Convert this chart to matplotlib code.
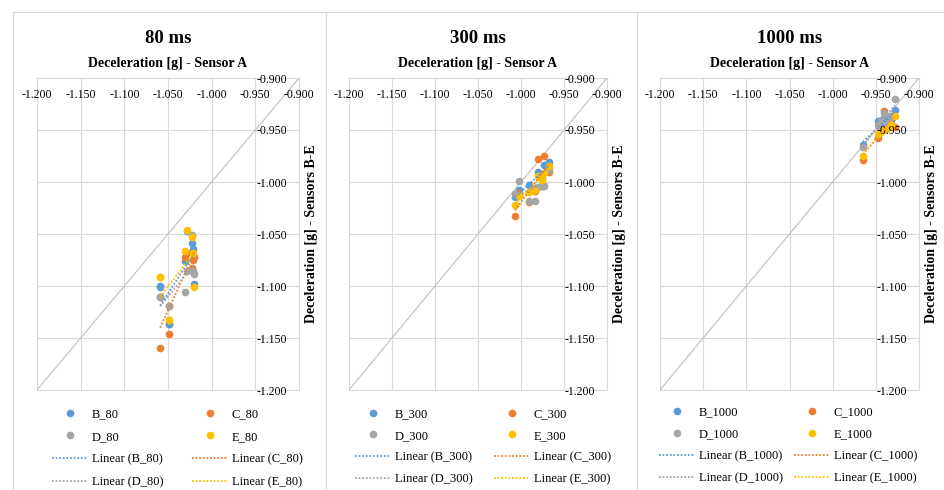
import numpy as np
import matplotlib.pyplot as plt
from matplotlib.lines import Line2D
from matplotlib.patches import Rectangle
from matplotlib.ticker import FormatStrFormatter

plt.rcParams['font.family'] = ['Liberation Serif', 'DejaVu Serif']

# Sensor A reading per run, and sensors B-E for the same run
a_80 = [-1.059, -1.059, -1.049, -1.049, -1.031, -1.028, -1.022, -1.021, -1.020]
b_80 = [-1.100, -1.101, -1.137, -1.137, -1.076, -1.047, -1.059, -1.064, -1.098]
c_80 = [-1.160, -1.111, -1.146, -1.119, -1.072, -1.068, -1.083, -1.075, -1.072]
d_80 = [-1.111, -1.111, -1.119, -1.119, -1.106, -1.086, -1.051, -1.086, -1.088]
e_80 = [-1.091, -1.091, -1.133, -1.133, -1.066, -1.046, -1.053, -1.068, -1.101]

a_300 = [-1.007, -1.002, -0.991, -0.984, -0.980, -0.976, -0.973, -0.967]
b_300 = [-1.014, -1.008, -1.003, -1.006, -0.990, -0.997, -0.984, -0.981]
c_300 = [-1.033, -1.011, -1.019, -1.009, -0.978, -1.004, -0.975, -0.990]
d_300 = [-1.012, -0.999, -1.018, -1.018, -1.005, -1.004, -1.004, -0.988]
e_300 = [-1.022, -1.013, -1.010, -1.008, -0.994, -0.998, -0.991, -0.985]

a_1000 = [-0.965, -0.947, -0.944, -0.940, -0.936, -0.933, -0.928]
b_1000 = [-0.964, -0.941, -0.946, -0.938, -0.944, -0.940, -0.931]
c_1000 = [-0.979, -0.958, -0.949, -0.932, -0.946, -0.944, -0.947]
d_1000 = [-0.966, -0.945, -0.940, -0.934, -0.943, -0.937, -0.920]
e_1000 = [-0.975, -0.954, -0.952, -0.950, -0.948, -0.945, -0.937]

diag = [-1.2, -0.9]
ticks = [-1.2, -1.15, -1.1, -1.05, -1.0, -0.95, -0.9]
sensors = ['B', 'C', 'D', 'E']
colors = ['#5B9BD5', '#ED7D31', '#A5A5A5', '#FFC000']

panels = [
    ('80', a_80, [b_80, c_80, d_80, e_80]),
    ('300', a_300, [b_300, c_300, d_300, e_300]),
    ('1000', a_1000, [b_1000, c_1000, d_1000, e_1000]),
]

W, H = 944, 490


def fx(px):
    return px / W


def fy(py):
    return 1 - py / H


fig = plt.figure(figsize=(W / 100, H / 100), dpi=100)

# chart area borders, plot area x-range, legend columns / top / spacing
frames = [(13, 326), (326, 637), (637, 952)]
plot_x = [(37, 299), (349, 607), (660, 919)]
leg = [(52, 192, 408, 0.86), (355, 494, 408, 0.78), (659, 794, 406, 0.8)]
top, bottom = 78, 390
grid_c = '#D9D9D9'

for i, (name, a, series) in enumerate(panels):
    f0, f1 = frames[i]
    fig.add_artist(Rectangle((fx(f0), -0.1), fx(f1) - fx(f0), fy(12) + 0.1,
                             transform=fig.transFigure, fill=False,
                             ec=grid_c, lw=0.8))

    L, R = plot_x[i]
    ax = fig.add_axes([fx(L), fy(bottom), fx(R) - fx(L), fy(top) - fy(bottom)])
    ax.set_xlim(-1.2, -0.9)
    ax.set_ylim(-1.2, -0.9)
    ax.set_xticks(ticks)
    ax.set_yticks(ticks)
    ax.xaxis.set_major_formatter(FormatStrFormatter('%.3f'))
    ax.yaxis.set_major_formatter(FormatStrFormatter('%.3f'))
    # grid drawn under the points, tick labels stay on top (as in Excel)
    ax.hlines(ticks, -1.2, -0.9, color=grid_c, lw=0.8, zorder=0.5)
    ax.vlines(ticks, -1.2, -0.9, color=grid_c, lw=0.8, zorder=0.5)
    for sp in ax.spines.values():
        sp.set_color(grid_c)
        sp.set_linewidth(0.8)
        sp.set_zorder(0.6)

    ax.tick_params(axis='x', bottom=False, top=False, labelbottom=False,
                   labeltop=True, length=0, pad=-12, labelsize=8.5)
    ax.tick_params(axis='y', left=False, right=False, labelleft=False,
                   labelright=True, length=0, pad=-8.6, labelsize=8.5)
    for t in ax.xaxis.get_major_ticks():
        t.label2.set_va('center')
    for t in ax.yaxis.get_major_ticks():
        t.label2.set_ha('right')

    ax.xaxis.set_label_position('top')
    ax.yaxis.set_label_position('right')
    ax.set_xlabel('Deceleration [g] - Sensor A', fontsize=10,
                  fontweight='bold', labelpad=8.2)
    ax.set_ylabel('Deceleration [g] - Sensors B-E', fontsize=10,
                  fontweight='bold', labelpad=4.5)
    ax.set_title(name + ' ms', y=1.0, pad=25, fontsize=13.5, fontweight='bold')

    ax.plot(diag, diag, color='#BFBFBF', lw=0.8, zorder=1)

    for s, c in zip(series, colors):
        ax.plot(a, s, 'o', ms=5.5, color=c, mec='none', zorder=1.5)
    for s, c in zip(series, colors):
        coef = np.polyfit(a, s, 1)
        xs = np.array([min(a), max(a)])
        ax.plot(xs, np.polyval(coef, xs), ls=(0, (1, 1)), lw=1.3, color=c,
                zorder=2)

    dots = [Line2D([], [], marker='o', ls='none', ms=5.5, color=c, mec='none')
            for c in colors]
    trends = [Line2D([], [], ls=(0, (1, 1)), lw=1.3, color=c) for c in colors]
    names = [f'{k}_{name}' for k in sensors]
    lin = [f'Linear ({n})' for n in names]

    x1, x2, ly, sp = leg[i]
    opts = dict(loc='upper left', frameon=False, fontsize=9, handlelength=2.9,
                handletextpad=0.3, labelspacing=sp, borderpad=0,
                borderaxespad=0)
    fig.legend([dots[0], dots[2], trends[0], trends[2]],
               [names[0], names[2], lin[0], lin[2]],
               bbox_to_anchor=(fx(x1), fy(ly)), **opts)
    fig.legend([dots[1], dots[3], trends[1], trends[3]],
               [names[1], names[3], lin[1], lin[3]],
               bbox_to_anchor=(fx(x2), fy(ly)), **opts)

fig.savefig('out.png', dpi=100)
